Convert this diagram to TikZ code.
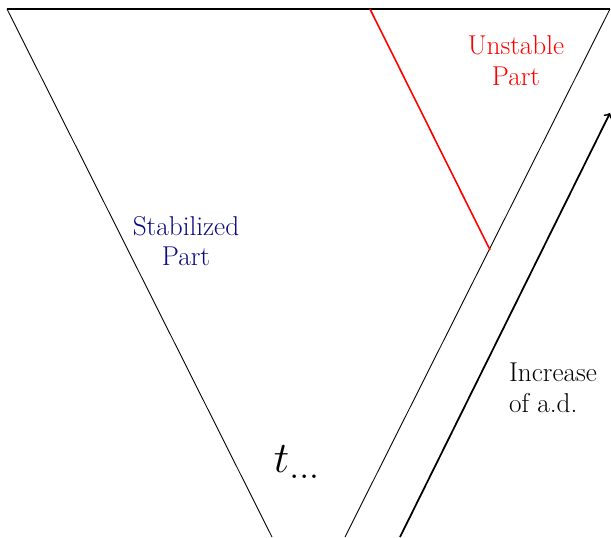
\documentclass[tikz,border=0pt]{standalone}
\usepackage{tikz}
\definecolor{stabblue}{RGB}{10,10,130}
\tikzset{
  edge/.style={line width=0.5pt},
  label/.style={align=center, font=\fontsize{15.5}{17.5}\selectfont}
}
\begin{document}
\begin{tikzpicture}[x=0.02cm,y=-0.02cm]
\useasboundingbox (0,0) rectangle (611,537);
\coordinate (topleft) at (7,9);
\coordinate (topright) at (610,9);
\coordinate (botleft) at (272,537);
\coordinate (botright) at (345,537);
\coordinate (redtop) at (370,9);
\coordinate (redbot) at (490,250);
\coordinate (arrowstart) at (400,537);
\coordinate (arrowend) at (610,113);
\draw[edge] (botleft) -- (topleft);
\draw[line width=0.9pt] (topleft) -- (topright);
\draw[edge] (topright) -- (botright);
\draw[red, line width=0.9pt] (redtop) -- (redbot);
\draw[line width=1pt, ->] (arrowstart) -- (arrowend);
\node[label, text=red] (unstable) at (516,61) {Unstable\\Part};
\node[label, text=stabblue] (stable) at (186,241) {Stabilized\\Part};
\node[label, align=left] (increase) at (553,388) {Increase\\of a.d.};
\node[font=\fontsize{32}{38}\selectfont] (time) at (297,462) {$t_{\dots}$};
\end{tikzpicture}
\end{document}
